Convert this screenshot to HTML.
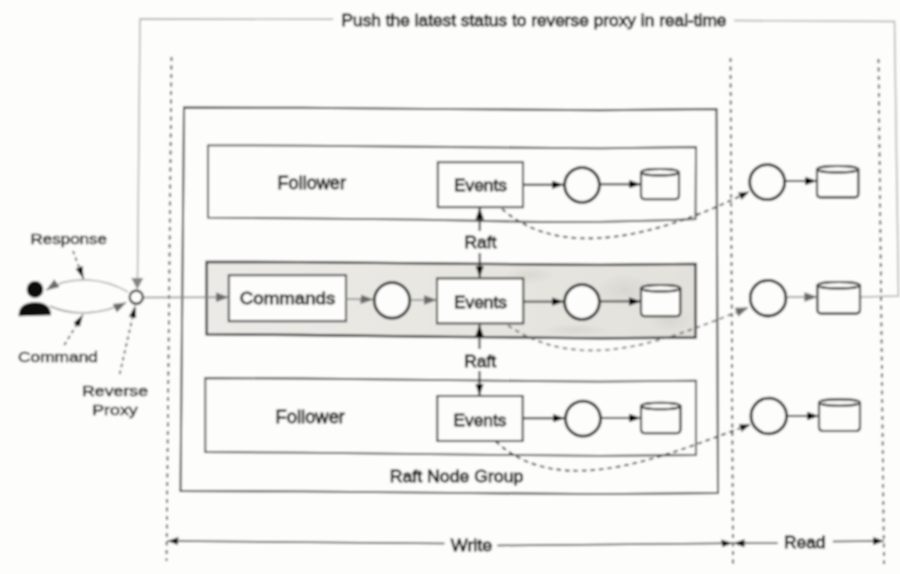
<!DOCTYPE html>
<html><head><meta charset="utf-8">
<style>
html,body{margin:0;padding:0;background:#fdfdfb;}
body{width:900px;height:574px;overflow:hidden;}
svg{display:block;will-change:transform;}
text{font-family:"Liberation Sans",sans-serif;fill:#0a0a0a;stroke:#0a0a0a;stroke-width:0.8px;}
.lbl{fill:#141414;stroke:#141414;stroke-width:0.5px;}
</style></head>
<body>
<svg width="900" height="574" viewBox="0 0 900 574">
<defs>
<marker id="ab" viewBox="0 0 10 10" refX="10" refY="5" preserveAspectRatio="none" markerWidth="12" markerHeight="8.5" markerUnits="userSpaceOnUse" orient="auto"><path d="M0 0L10 5L0 10z" fill="#000"/></marker>
<marker id="ab2" viewBox="0 0 10 10" refX="10" refY="5" preserveAspectRatio="none" markerWidth="11" markerHeight="8" markerUnits="userSpaceOnUse" orient="auto"><path d="M0 0L10 5L0 10z" fill="#111"/></marker>
<marker id="ap" viewBox="0 0 10 10" refX="10" refY="5" preserveAspectRatio="none" markerWidth="12.5" markerHeight="7.5" markerUnits="userSpaceOnUse" orient="auto"><path d="M0 0L10 5L0 10z" fill="#0a0a0a"/></marker>
<marker id="ag" viewBox="0 0 10 10" refX="10" refY="5" preserveAspectRatio="none" markerWidth="13" markerHeight="9.5" markerUnits="userSpaceOnUse" orient="auto"><path d="M0 0L10 5L0 10z" fill="#6a6a6a"/></marker>
<filter id="soft" x="0" y="0" width="900" height="574" filterUnits="userSpaceOnUse"><feGaussianBlur stdDeviation="0.8"/></filter>
<linearGradient id="lf" x1="0" y1="0" x2="1" y2="0"><stop offset="0" stop-color="#ebeae6"/><stop offset="0.5" stop-color="#e7e6e1"/><stop offset="1" stop-color="#e2e1db"/></linearGradient>
<radialGradient id="blot" cx="50%" cy="50%" r="50%"><stop offset="0" stop-color="#cfcdc7" stop-opacity="0.55"/><stop offset="1" stop-color="#cfcdc7" stop-opacity="0"/></radialGradient>
</defs>
<g filter="url(#soft)">
<rect x="0" y="0" width="900" height="574" fill="#fdfdfb"/>

<g fill="none" stroke="#ababab" stroke-width="1.4">
<polyline points="861,297 898.5,296 894.5,21.5 734,20.5"/>
<polyline points="333,19.3 140,19 137.5,281"/>
</g>
<path d="M131.3 278 L137.3 289.5 L143.3 278 z" fill="#858585"/>

<g stroke="#262626" stroke-width="1.7" stroke-dasharray="3.9 4.6" fill="none">
<line x1="171.5" y1="57" x2="166.5" y2="561"/>
<line x1="730.5" y1="58" x2="733" y2="566"/>
<line x1="878.5" y1="59" x2="884" y2="564"/>
</g>

<g fill="none" stroke="#3a3a3a" stroke-width="1.8">
<polygon points="184.0,107.5 300.0,107.8 450.0,109.1 600.0,110.2 716.5,109.0 718.0,493.0 600.0,494.1 450.0,492.9 300.0,491.4 180.5,491.0" stroke="#303030" stroke-width="1.95"/>
<polygon points="208,145.3 300,145.6 450,147.0 600,148.4 696,147 695.5,219.2 660,220.3 600,221.8 540,222 420,219.7 300,218.3 208,217.7"/>
<polygon points="206.6,261.8 300.0,262.2 450.0,263.7 600.0,264.9 695.6,263.8 695.6,337.5 600.0,338.4 450.0,336.8 300.0,335.0 206.6,334.4" fill="url(#lf)" stroke="#242424" stroke-width="2.3"/>
<polygon points="205.3,378.0 300.0,378.5 450.0,380.2 600.0,381.7 696.0,380.7 696.0,455.0 600.0,455.9 450.0,454.4 300.0,452.6 205.3,452.0"/>
</g>

<g>
<ellipse cx="625" cy="290" rx="30" ry="16" fill="url(#blot)"/>
<ellipse cx="575" cy="330" rx="35" ry="6" fill="url(#blot)"/>
<ellipse cx="670" cy="320" rx="22" ry="12" fill="url(#blot)"/>
<ellipse cx="530" cy="275" rx="25" ry="9" fill="url(#blot)"/>
</g>

<g fill="#fdfdfb" stroke="#2a2a2a" stroke-width="1.9">
<rect x="437.8" y="162.2" width="85.2" height="45"/>
<rect x="437" y="278.4" width="86.3" height="45"/>
<rect x="437.3" y="396" width="85.4" height="45"/>
<rect x="228.8" y="275.2" width="117.2" height="46"/>
</g>
<g fill="#fdfdfb" stroke="#121212" stroke-width="2.8">
<circle cx="582" cy="185" r="17.4"/>
<circle cx="392" cy="300.4" r="17.7"/>
<circle cx="582" cy="302" r="17.4"/>
<circle cx="583" cy="418.7" r="17.5"/>
<circle cx="767.2" cy="182.1" r="17.5"/>
<circle cx="768.1" cy="298.2" r="17.8"/>
<circle cx="768.8" cy="416" r="17.8"/>
</g>

<g fill="#fdfdfb" stroke="#161616" stroke-width="2.1">
<path d="M641 172.2 V195.3 Q641 199.3 645 199.3 H675 Q679 199.3 679 195.3 V172.2"/><ellipse cx="660.0" cy="172.2" rx="19.0" ry="3.2"/>
<path d="M641 288.2 V312.2 Q641 316.2 645 316.2 H676.3 Q680.3 316.2 680.3 312.2 V288.2"/><ellipse cx="660.65" cy="288.2" rx="19.649999999999977" ry="3.2"/>
<path d="M641 405.9 V429.3 Q641 433.3 645 433.3 H676.5 Q680.5 433.3 680.5 429.3 V405.9"/><ellipse cx="660.75" cy="405.9" rx="19.75" ry="3.2"/>
<path d="M817 169.2 V193.4 Q817 197.4 821 197.4 H854.4 Q858.4 197.4 858.4 193.4 V169.2"/><ellipse cx="837.7" cy="169.2" rx="20.69999999999999" ry="3.2"/>
<path d="M817.4 285.2 V309.6 Q817.4 313.6 821.4 313.6 H856 Q860 313.6 860 309.6 V285.2"/><ellipse cx="838.7" cy="285.2" rx="21.30000000000001" ry="3.2"/>
<path d="M819 402.59999999999997 V427 Q819 431 823 431 H856 Q860 431 860 427 V402.59999999999997"/><ellipse cx="839.5" cy="402.59999999999997" rx="20.5" ry="3.2"/>
</g>

<g stroke="#222" stroke-width="1.9" fill="none" marker-end="url(#ab)">
<line x1="523" y1="184.8" x2="563.8" y2="184.8"/>
<line x1="600.2" y1="184.2" x2="641" y2="184.2"/>
<line x1="523.3" y1="301.6" x2="563.8" y2="301.6"/>
<line x1="600.2" y1="301.4" x2="641" y2="301.4"/>
<line x1="522.7" y1="418.2" x2="564.6" y2="418.2"/>
<line x1="601.4" y1="418" x2="641" y2="418"/>
<line x1="785.4" y1="181" x2="817" y2="181"/>
<line x1="787.4" y1="416" x2="819" y2="416"/>
<line x1="479.7" y1="231" x2="479.7" y2="207.5"/>
<line x1="479.7" y1="253" x2="479.7" y2="277.5"/>
<line x1="479.5" y1="349" x2="479.5" y2="324.5"/>
<line x1="479.5" y1="371" x2="479.5" y2="395.5"/>
</g>
<g stroke="#8a8a8a" stroke-width="1.5" fill="none" marker-end="url(#ag)">
<line x1="144" y1="297.5" x2="228.8" y2="297.2"/>
<line x1="346" y1="299" x2="373.5" y2="299.5"/>
<line x1="410.5" y1="300" x2="437" y2="300"/>
<line x1="786.7" y1="297" x2="817.4" y2="297"/>
</g>

<g stroke="#1e1e1e" stroke-width="1.7" fill="none" stroke-dasharray="4.6 3.9">
<path d="M502.0 208.9 C568.6 268.2, 681.1 225.4, 749.5 191.5" marker-end="url(#ab2)"/>
<path d="M508.0 325.5 C585.0 377.1, 672.2 337.4, 748.5 307.5" marker-end="url(#ag)" stroke="#6a6a6a"/>
<path d="M495.7 441.4 C563.0 504.1, 675.3 450.8, 750.5 424.5" marker-end="url(#ab2)"/>
</g>

<ellipse cx="35" cy="289.5" rx="8.3" ry="8.4" fill="#0e0e0e"/>
<path d="M18.6 316.2 C18.6 307, 24 302.3, 35 302.3 C46 302.3, 51 307, 51 315.2 z" fill="#0e0e0e"/>
<g stroke="#9a9a9a" stroke-width="1.4" fill="none" marker-end="url(#ag)">
<path d="M128.0 292.0 C103.8 277.9, 70.4 274.5, 46.1 290.2"/>
<path d="M49.8 306.0 C73.6 317.0, 103.3 314.1, 126.2 302.4"/>
</g>
<circle cx="136.3" cy="297.2" r="6.6" fill="#fdfdfb" stroke="#1a1a1a" stroke-width="2.2"/>
<g stroke="#4a4a4a" stroke-width="1.7" fill="none" stroke-dasharray="3.5 3.5" marker-end="url(#ap)">
<line x1="73" y1="251" x2="83.5" y2="279"/>
<line x1="64.3" y1="345" x2="83" y2="314.5"/>
<line x1="119.7" y1="374" x2="135.3" y2="305.5"/>
</g>

<g stroke="#262626" stroke-width="1.5" fill="none" marker-end="url(#ab2)">
<line x1="444.4" y1="543.4" x2="167.5" y2="541"/>
<line x1="497.4" y1="545.5" x2="732.5" y2="543.3"/>
<line x1="777.8" y1="543.3" x2="733.5" y2="543.3"/>
<line x1="832.9" y1="541.5" x2="884" y2="541"/>
</g>

<g>
<text x="341.5" y="26.2" font-size="17" textLength="385" lengthAdjust="spacingAndGlyphs">Push the latest status to reverse proxy in real-time</text>
<text x="277.5" y="189" font-size="18" textLength="68.5" lengthAdjust="spacingAndGlyphs">Follower</text>
<text x="275.5" y="422.9" font-size="18" textLength="69.5" lengthAdjust="spacingAndGlyphs">Follower</text>
<text x="454" y="190.6" font-size="17.2" textLength="53" lengthAdjust="spacingAndGlyphs">Events</text>
<text x="454" y="308.2" font-size="17.2" textLength="53" lengthAdjust="spacingAndGlyphs">Events</text>
<text x="453.5" y="425.7" font-size="17.2" textLength="53" lengthAdjust="spacingAndGlyphs">Events</text>
<text x="239.8" y="304.3" font-size="16.8" textLength="95.5" lengthAdjust="spacingAndGlyphs">Commands</text>
<text x="464.5" y="248.1" font-size="17" textLength="32" lengthAdjust="spacingAndGlyphs">Raft</text>
<text x="464.2" y="366.9" font-size="17" textLength="32" lengthAdjust="spacingAndGlyphs">Raft</text>
<text x="389.8" y="481.5" font-size="17.3" textLength="133.5" lengthAdjust="spacingAndGlyphs">Raft Node Group</text>
<text x="450.8" y="551.2" font-size="17" textLength="41.5" lengthAdjust="spacingAndGlyphs">Write</text>
<text x="784" y="548.4" font-size="16" textLength="41.5" lengthAdjust="spacingAndGlyphs">Read</text>
<text class="lbl" x="30.5" y="244.2" font-size="15" textLength="76.5" lengthAdjust="spacingAndGlyphs">Response</text>
<text class="lbl" x="18" y="361.7" font-size="15" textLength="80" lengthAdjust="spacingAndGlyphs">Command</text>
<text class="lbl" x="82" y="396.2" font-size="15.5" textLength="66" lengthAdjust="spacingAndGlyphs">Reverse</text>
<text class="lbl" x="92.2" y="415.2" font-size="15.5" textLength="45.5" lengthAdjust="spacingAndGlyphs">Proxy</text>
</g>
</g>
</svg>
</body></html>
